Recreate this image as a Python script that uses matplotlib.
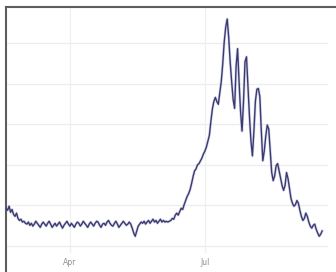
import pandas as pd
import matplotlib
matplotlib.use("Agg")
from matplotlib import pyplot as plt

# daily values, starting 2020-02-18
start_date = "2020-02-18"
feb_high = [930, 880, 980, 830, 900, 780]
feb_drop = [730, 810, 680, 630, 660, 590, 610, 560]
spring_flat = [540, 590, 510, 560, 490, 540, 610, 560, 510, 460,
               540, 590, 540, 490, 560, 610, 540, 460, 510, 560,
               490, 540, 590, 510, 440, 510, 560, 610, 540, 490,
               560, 510, 460, 540, 590, 560, 490, 540, 610, 560,
               510, 460, 540, 590, 540, 490, 560, 610, 590, 510,
               460, 540, 560, 510, 590, 630, 560, 510, 490, 560,
               610, 540, 460, 510, 560, 610, 560, 510, 540, 590]
may_dip = [540, 440, 320, 240, 370, 490]
may_jun = [540, 590, 560, 610, 540, 590, 630, 560, 610, 660, 590,
           630, 560, 610, 660, 590, 630, 590, 610, 590, 610]
jun_rise = [630, 680, 660, 760, 810, 760, 850, 930, 900, 1020, 1120, 1220,
            1290, 1390, 1540, 1710, 1850, 1900, 2000, 2030, 2100, 2170, 2270]
jul_rise = [2340, 2440, 2590, 2730, 3070, 3370, 3560, 3660, 3560, 3490,
            3760, 4050, 4490, 5030, 5390, 5590]
summer_fall = [5150, 4540, 4050, 3610, 3390, 4420, 4860, 4050, 3320, 2830,
               3560, 4540, 4660, 3930, 3200, 2590, 2220, 2830, 3560, 3860,
               3880, 3680, 2830, 2100, 2340, 2710, 2980, 2880, 2340, 1810,
               1610, 1730, 1980, 2030, 1850, 1660, 1490, 1370, 1490, 1810,
               1660, 1420, 1170, 1050, 980, 1020, 1120, 1050, 880, 730,
               630, 680, 810, 730, 590, 490, 440, 510, 540, 410,
               320, 240, 290, 370]

values = (feb_high + feb_drop + spring_flat + may_dip + may_jun
          + jun_rise + jul_rise + summer_fall)
dates = pd.date_range(start_date, periods=len(values), freq="D")
tick_dates = pd.to_datetime(["2020-04-01", "2020-07-01"])
tick_labels = ["Apr", "Jul"]
grid_values = [0, 1000, 2000, 3000, 4000, 5000]

fig = plt.figure(figsize=(3.36, 2.72), dpi=100)
ax = fig.add_axes([6 / 336, 0, 330 / 336, 265 / 272])

ax.set_xlim(pd.Timestamp("2020-02-17 22:00"), pd.Timestamp("2020-09-27 08:00"))
ax.set_ylim(-640, 5887)

for g in grid_values:
    ax.axhline(g, xmax=0.973, color="#ededed", lw=0.9, zorder=0)
for t in tick_dates:
    ax.axvline(t, ymin=0.075, color="#f0f0f0", lw=0.9, zorder=0)

ax.plot(dates, values, color="#a8a8d0", lw=2.0, alpha=0.45, zorder=2)
ax.plot(dates, values, color="#3a3a72", lw=1.0, zorder=3)

ax.set_xticks(tick_dates)
ax.set_xticklabels(tick_labels)
ax.set_yticks([])
ax.tick_params(axis="x", length=0, pad=-10, labelsize=5.5, labelcolor="#8f8f8f")

for side in ["right", "bottom"]:
    ax.spines[side].set_visible(False)
for side in ["top", "left"]:
    ax.spines[side].set_color("#5e5e5e")
    ax.spines[side].set_linewidth(1.5)

fig.savefig("out.png", dpi=100)
